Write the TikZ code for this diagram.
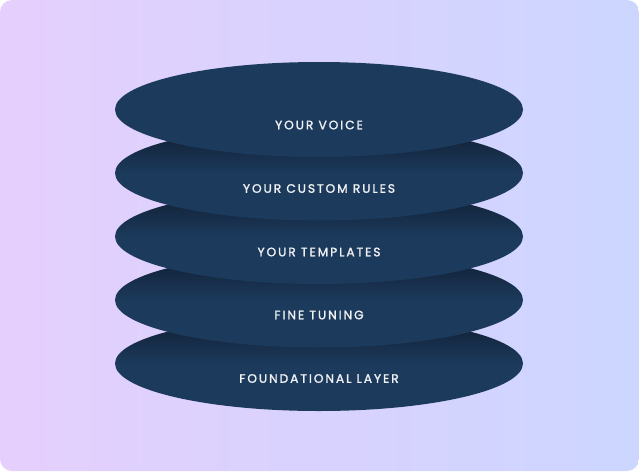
\documentclass[tikz,border=0pt]{standalone}
\usepackage{fontspec}
\newfontfamily\pop[LetterSpace=16, FakeBold=1.6]{Poppins}
\definecolor{bgL}{RGB}{229,207,253}
\definecolor{bgR}{RGB}{204,214,255}
\definecolor{layerbase}{RGB}{28,58,92}
\definecolor{layerdark}{RGB}{15,28,47}
\pgfdeclareverticalshading{layershade}{100bp}{color(0bp)=(layerbase); color(25bp)=(layerbase); color(50bp)=(layerbase); color(75bp)=(layerdark); color(100bp)=(layerdark)}
\tikzset{
  layerlabel/.style={text=white!93!layerbase, font=\pop\fontsize{12.2}{14}\selectfont, inner sep=0pt, anchor=center},
}
\begin{document}
\begin{tikzpicture}[x=1pt,y=-1pt]
\useasboundingbox (0,0) rectangle (639,471);
\fill[white] (0,0) rectangle (639,471);
\shade[left color=bgL, right color=bgR, rounded corners=12pt] (0,0) rectangle (639,471);
% layers, bottom first
\foreach \cy in {363.5,300,236.5,173}{
  \shade[shading=layershade] (319,\cy) ellipse [x radius=204, y radius=47.5];
}
\fill[layerbase] (319,109.5) ellipse [x radius=204, y radius=47.5];
\node[layerlabel] (l1) at (319,125) {YOUR VOICE};
\node[layerlabel] (l2) at (319,188.5) {YOUR CUSTOM RULES};
\node[layerlabel] (l3) at (319,252) {YOUR TEMPLATES};
\node[layerlabel] (l4) at (319,315) {FINE TUNING};
\node[layerlabel] (l5) at (319,378.5) {FOUNDATIONAL LAYER};
\end{tikzpicture}
\end{document}
